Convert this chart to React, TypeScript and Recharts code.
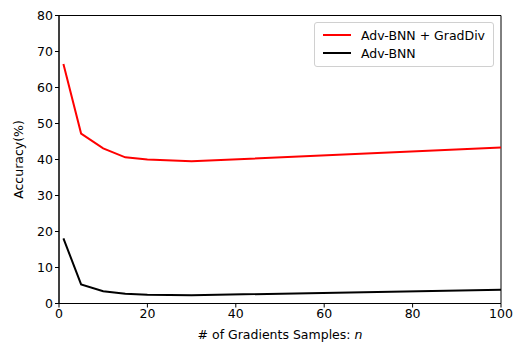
import React from 'react';
import {
  LineChart,
  Line,
  XAxis,
  YAxis,
  Legend,
  ReferenceArea,
} from 'recharts';

// Gradient sample counts (x) and accuracy values
const samples = [1, 5, 10, 15, 20, 30, 100];
const gradDiv = [66.5, 47.2, 43.1, 40.6, 40.0, 39.5, 43.3];
const advBnn = [18.1, 5.3, 3.4, 2.7, 2.4, 2.3, 3.8];
const xTicks = [0, 20, 40, 60, 80, 100];
const yTicks = [0, 10, 20, 30, 40, 50, 60, 70, 80];

const seriesNames = ['Adv-BNN + GradDiv', 'Adv-BNN'];
const seriesColors = ['#ff0000', '#000000'];

const data = samples.map((n, i) => ({ n, gradDiv: gradDiv[i], advBnn: advBnn[i] }));

const font = 'DejaVu Sans, sans-serif';

const LegendBox = () => (
  <div
    style={{
      border: '1px solid #d0d0d0',
      borderRadius: 3,
      background: 'rgba(255,255,255,0.8)',
      padding: '3px 8px 4px 8px',
      fontFamily: font,
      fontSize: 12.5,
      color: '#000',
    }}
  >
    {seriesNames.map((name, i) => (
      <div key={name} style={{ display: 'flex', alignItems: 'center', height: 18 }}>
        <span
          style={{
            display: 'inline-block',
            width: 28,
            height: 2,
            background: seriesColors[i],
            marginRight: 10,
          }}
        />
        {name}
      </div>
    ))}
  </div>
);

const XLabel = ({ viewBox }: any) => {
  const cx = viewBox.x + viewBox.width / 2;
  return (
    <text x={cx} y={viewBox.y + 35} textAnchor="middle" fontFamily={font} fontSize={12.5} fill="#000">
      # of Gradients Samples: <tspan fontStyle="italic">n</tspan>
    </text>
  );
};

export default function App() {
  return (
    <div style={{ position: 'absolute', left: 0, top: 0 }}>
      <LineChart
        width={517}
        height={350}
        data={data}
        margin={{ top: 15.5, right: 16, left: 19, bottom: 6.5 }}
      >
        <XAxis
          dataKey="n"
          type="number"
          domain={[0, 100]}
          ticks={xTicks}
          height={40}
          stroke="#000"
          tickSize={4}
          tick={{ fill: '#000', fontFamily: font, fontSize: 12.5 }}
          label={<XLabel />}
        />
        <YAxis
          type="number"
          domain={[0, 80]}
          ticks={yTicks}
          width={40}
          stroke="#000"
          tickSize={4}
          tick={{ fill: '#000', fontFamily: font, fontSize: 12.5 }}
          label={{
            value: 'Accuracy(%)',
            angle: -90,
            position: 'insideLeft',
            dx: -5,
            style: { textAnchor: 'middle', fontFamily: font, fontSize: 12.5, fill: '#000' },
          }}
        />
        <ReferenceArea x1={0} x2={100} y1={0} y2={80} fill="none" stroke="#000" strokeWidth={1} />
        <Line
          dataKey="gradDiv"
          name={seriesNames[0]}
          stroke={seriesColors[0]}
          strokeWidth={2}
          dot={false}
          isAnimationActive={false}
        />
        <Line
          dataKey="advBnn"
          name={seriesNames[1]}
          stroke={seriesColors[1]}
          strokeWidth={2}
          dot={false}
          isAnimationActive={false}
        />
        <Legend
          layout="vertical"
          align="center"
          verticalAlign="middle"
          content={<LegendBox />}
          wrapperStyle={{ top: 22, left: 314, width: 'auto' }}
        />
      </LineChart>
    </div>
  );
}
